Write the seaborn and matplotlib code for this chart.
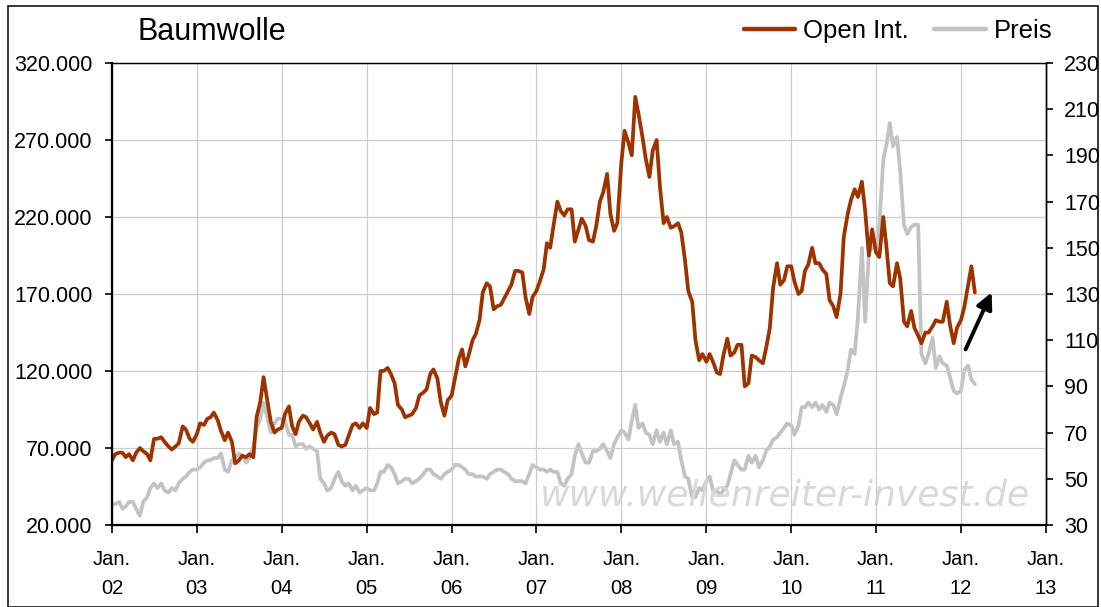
import seaborn as sns
import numpy as np
import pandas as pd
import matplotlib.pyplot as plt
from matplotlib.patches import Rectangle
from matplotlib.ticker import FuncFormatter, FixedLocator

# half-monthly readings, Jan 2002 .. Mar 2012
open_int_k = [
    62, 66, 67, 67, 64, 66, 62, 67, 70, 68, 66, 62, 76, 76, 77, 74, 71, 69, 71, 73, 84, 82, 76, 74,
    79, 86, 85, 89, 90, 93, 88, 81, 75, 80, 74, 60, 62, 65, 64, 66, 64, 90, 100, 116, 100, 87, 80, 82,
    83, 92, 97, 84, 79, 87, 91, 90, 86, 82, 87, 80, 74, 78, 80, 79, 72, 71, 72, 78, 85, 86, 83, 86,
    83, 96, 92, 93, 120, 120, 122, 118, 112, 98, 95, 90, 91, 92, 96, 104, 106, 108, 118, 121, 115, 100, 91, 101,
    104, 115, 128, 134, 123, 130, 140, 144, 153, 171, 177, 175, 160, 162, 163, 167, 172, 176, 185, 185, 184, 168, 157, 168,
    172, 178, 186, 203, 200, 214, 230, 224, 221, 225, 225, 204, 212, 219, 214, 205, 204, 214, 230, 236, 248, 222, 211, 216,
    255, 276, 268, 260, 298, 287, 272, 258, 246, 263, 270, 240, 216, 220, 213, 214, 216, 210, 192, 172, 165, 140, 127, 131,
    126, 131, 125, 119, 118, 130, 141, 130, 132, 137, 137, 110, 112, 130, 129, 127, 125, 135, 148, 174, 190, 176, 179, 188,
    188, 178, 170, 172, 185, 189, 200, 190, 190, 186, 183, 166, 162, 155, 170, 207, 222, 231, 238, 233, 243, 224, 195, 212,
    197, 194, 220, 200, 177, 175, 190, 180, 152, 149, 159, 148, 143, 138, 145, 145, 149, 153, 152, 152, 165, 150, 138, 148,
    153, 161, 176, 188, 171,
]
preis = [
    39, 39, 40, 37, 38, 40, 40, 37, 34, 40, 42, 46, 48, 46, 48, 45, 44, 46, 45, 48, 50, 51, 53, 54,
    54, 55, 57, 58, 58, 59, 59, 61, 54, 53, 58, 59, 61, 60, 57, 59, 64, 72, 76, 83, 76, 70, 74, 76,
    76, 75, 69, 69, 64, 65, 65, 63, 64, 63, 62, 50, 48, 45, 46, 50, 53, 49, 47, 48, 45, 47, 44, 45,
    46, 45, 45, 48, 53, 53, 56, 55, 52, 48, 49, 50, 50, 48, 49, 50, 52, 54, 54, 52, 51, 50, 52, 53,
    54, 56, 56, 55, 54, 52, 52, 51, 51, 51, 50, 52, 53, 54, 54, 53, 52, 50, 49, 49, 49, 48, 52, 56,
    55, 54, 54, 53, 54, 53, 53, 48, 47, 50, 52, 60, 65, 61, 57, 57, 62, 62, 63, 65, 62, 59, 65, 68,
    71, 70, 67, 75, 82, 72, 74, 70, 69, 65, 71, 66, 70, 65, 71, 65, 66, 58, 51, 50, 42, 42, 46, 45,
    49, 51, 44, 45, 43, 45, 47, 52, 58, 56, 54, 54, 60, 57, 60, 55, 58, 62, 64, 67, 68, 70, 72, 74,
    73, 69, 73, 81, 81, 83, 81, 83, 80, 82, 79, 83, 82, 78, 85, 90, 97, 106, 104, 120, 150, 118, 148, 150,
    150, 160, 188, 195, 204, 194, 198, 183, 160, 156, 159, 160, 160, 104, 100, 104, 111, 98, 103, 100, 99, 94, 88, 87,
    88, 97, 99, 93, 91,
]
years = list(range(2002, 2014))
year_labels = ["Jan.\n%02d" % (y % 100) for y in years]
left_ticks = [20000, 70000, 120000, 170000, 220000, 270000, 320000]
right_ticks = list(range(30, 231, 20))

dates = pd.date_range("2002-01-01", periods=len(open_int_k), freq="SMS")
df = pd.DataFrame({"date": dates,
                   "oi": np.array(open_int_k) * 1000,
                   "preis": preis})

sns.set_style("white")
plt.rcParams['font.family'] = ['Liberation Sans', 'DejaVu Sans']
plt.rcParams['text.color'] = 'black'
plt.rcParams['xtick.color'] = 'black'
plt.rcParams['ytick.color'] = 'black'

OI_COL = "#9E3300"
PR_COL = "#C3C3C3"

fig = plt.figure(figsize=(11.01, 6.07), dpi=100)
ax = fig.add_axes([112/1101, 1 - 525/607, (1046-112)/1101, (525-63)/607])
ax2 = ax.twinx()
ax.set_zorder(ax2.get_zorder() + 1)
ax.patch.set_visible(False)

sns.lineplot(data=df, x="date", y="preis", ax=ax2, color=PR_COL, lw=2.7, legend=False)
sns.lineplot(data=df, x="date", y="oi", ax=ax, color=OI_COL, lw=2.7, legend=False)

xt = [pd.Timestamp(f"{y}-01-01") for y in years]
ax.set_xlim(xt[0], xt[-1])
ax.set_ylim(20000, 320000)
ax2.set_ylim(30, 230)

ax.xaxis.set_major_locator(FixedLocator([plt.matplotlib.dates.date2num(d) for d in xt]))
ax.set_xticklabels(year_labels, fontsize=14.5)
for lbl in ax.get_xticklabels():
    lbl.set_linespacing(1.7)
ax.set_yticks(left_ticks)
ax.yaxis.set_major_formatter(FuncFormatter(lambda v, p: f"{v:,.0f}".replace(",", ".")))
ax.tick_params(axis="y", labelsize=15.5, length=5, width=1.2, pad=9, direction="out", left=True)
ax.tick_params(axis="x", length=6, width=1.2, pad=12, direction="out", bottom=True)
ax2.set_yticks(right_ticks)
ax2.tick_params(axis="y", labelsize=15.5, length=5, width=1.2, pad=8, direction="out", right=True)
ax.set_xlabel("")
ax.set_ylabel("")
ax2.set_ylabel("")

ax.grid(True, color="#cdcdcd", lw=0.9)
ax2.grid(False)
for s in ["left", "bottom"]:
    ax.spines[s].set_linewidth(1.6)
    ax.spines[s].set_color("black")
for s in ["top", "right"]:
    ax.spines[s].set_linewidth(1.0)
    ax.spines[s].set_color("black")
ax2.spines["right"].set_linewidth(1.0)
ax2.spines["right"].set_color("black")

# watermark
fig.text(540/1101, 1 - 505/607, "www.wellenreiter-invest.de", fontsize=26,
         family="DejaVu Sans", style="oblique", color="#d9d9d9",
         ha="left", va="baseline", zorder=0.5)

# trend arrow
ax.annotate("", xy=(pd.Timestamp("2012-05-12"), 171000),
            xytext=(pd.Timestamp("2012-01-21"), 134000),
            arrowprops=dict(arrowstyle="-|>", color="black", lw=2.8,
                            mutation_scale=24, shrinkA=0, shrinkB=0))

fig.text(137/1101, 1 - 32/607, "Baumwolle", fontsize=22, ha="left", va="center")

h1 = plt.Line2D([], [], color=OI_COL, lw=3.2)
h2 = plt.Line2D([], [], color=PR_COL, lw=3.2)
fig.legend([h1, h2], ["Open Int.", "Preis"], loc="center right",
           bbox_to_anchor=(1052/1101, 1 - 31/607), ncol=2, frameon=False,
           fontsize=18.5, handlelength=2.0, handletextpad=0.3, columnspacing=1.0,
           borderpad=0, borderaxespad=0)

fig.patches.append(Rectangle((7.5/1101, 0.5/607), 1090/1101, 601/607,
                             transform=fig.transFigure, fill=False,
                             edgecolor="black", lw=1.1))

fig.savefig("out.png", dpi=100)
